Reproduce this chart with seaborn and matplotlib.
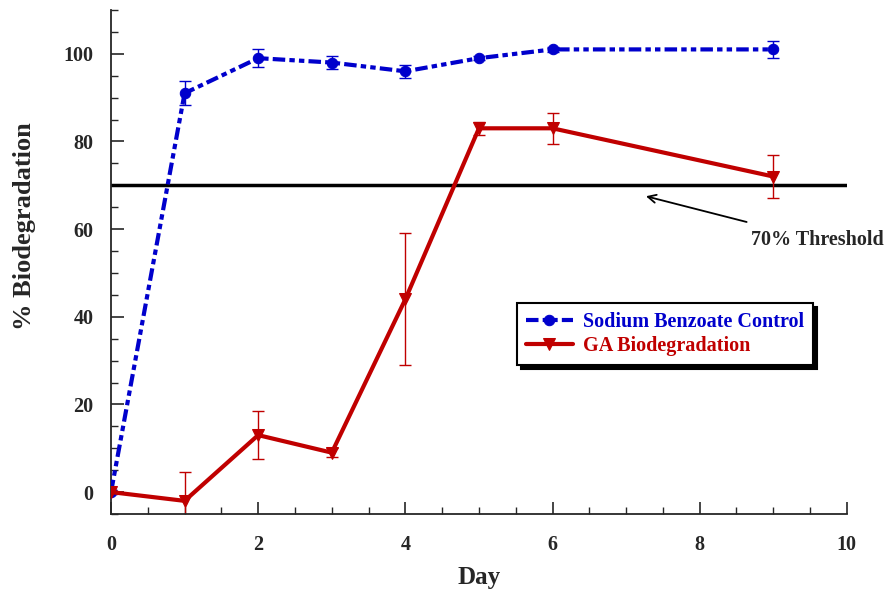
"""% Biodegradation over time"""

import numpy as np
import pandas as pd
import matplotlib.pyplot as plt
import seaborn as sns
from matplotlib.ticker import MultipleLocator

day = [0, 1, 2, 3, 4, 5, 6, 9]
benzoate = [0, 91, 99, 98, 96, 99, 101, 101]
benzoate_err = [0.5, 2.7, 2, 1.5, 1.5, 0.5, 0.5, 2]
ga = [0, -2, 13, 9, 44, 83, 83, 72]
ga_err = [0.5, 6.5, 5.5, 1, 15, 1.5, 3.5, 5]
threshold = 70

blue = '#0000cc'
red = '#c00000'

sns.set_theme(style='ticks')
plt.rcParams['font.family'] = ['Liberation Serif', 'DejaVu Serif']
plt.rcParams['font.weight'] = 'bold'

df = pd.DataFrame({'Day': day, 'Sodium Benzoate Control': benzoate,
                   'GA Biodegradation': ga})

fig = plt.figure(figsize=(8.86, 5.93), dpi=100)
ax = fig.add_axes([0.1253, 0.1332, 0.8305, 0.85])

ax.axhline(threshold, color='black', lw=2.5, zorder=1)

ax.errorbar(day, benzoate, yerr=benzoate_err, fmt='none', ecolor=blue,
            elinewidth=1, capsize=4, zorder=2)
ax.errorbar(day, ga, yerr=ga_err, fmt='none', ecolor=red,
            elinewidth=1, capsize=4, zorder=2)

sns.lineplot(data=df, x='Day', y='Sodium Benzoate Control', ax=ax,
             color=blue, lw=3, marker='o', markersize=7.5, markeredgecolor=blue,
             label='Sodium Benzoate Control', zorder=3)
ax.lines[-1].set_dashes([3, 1, 1.3, 1, 1.3, 1])
sns.lineplot(data=df, x='Day', y='GA Biodegradation', ax=ax,
             color=red, lw=3, marker='v', markersize=9, markeredgecolor=red,
             label='GA Biodegradation', zorder=4)

ax.set_xlim(0, 10)
ax.set_ylim(-5, 110)
ax.set_xticks([0, 2, 4, 6, 8, 10])
ax.set_yticks([0, 20, 40, 60, 80, 100])
ax.xaxis.set_minor_locator(MultipleLocator(0.5))
ax.yaxis.set_minor_locator(MultipleLocator(5))
ax.tick_params(which='major', direction='in', length=9, width=1.2,
               labelsize=14.5)
ax.tick_params(axis='x', which='major', pad=15)
ax.tick_params(axis='y', which='major', pad=12.5)
ax.tick_params(which='minor', direction='in', length=5, width=1)
for lab in ax.get_xticklabels() + ax.get_yticklabels():
    lab.set_fontweight('bold')

ax.set_xlabel('Day', fontsize=18, fontweight='bold', labelpad=8)
ax.set_ylabel('% Biodegradation', fontsize=19, fontweight='bold')
ax.yaxis.set_label_coords(-0.102, 0.571)
sns.despine(ax=ax)
ax.spines['left'].set_linewidth(1.3)
ax.spines['bottom'].set_linewidth(1.3)

ax.annotate('70% Threshold', xy=(7.27, 67.5), xytext=(9.6, 57.5),
            ha='center', va='center', fontsize=14.5, fontweight='bold',
            annotation_clip=False,
            arrowprops=dict(arrowstyle='->', color='black', lw=1.3,
                            shrinkA=14, shrinkB=0))

leg = ax.legend(loc='upper left', bbox_to_anchor=(0.552, 0.419),
                borderaxespad=0, frameon=True, fancybox=False,
                shadow={'color': 'black', 'alpha': 1, 'ox': 3, 'oy': -3},
                edgecolor='black', fontsize=14.5, handlelength=2.3,
                borderpad=0.45, labelspacing=0.2, handletextpad=0.5)
leg.get_frame().set_linewidth(1.5)
for txt, col in zip(leg.get_texts(), [blue, red]):
    txt.set_color(col)
    txt.set_fontweight('bold')

fig.savefig('out.png', dpi=100)
